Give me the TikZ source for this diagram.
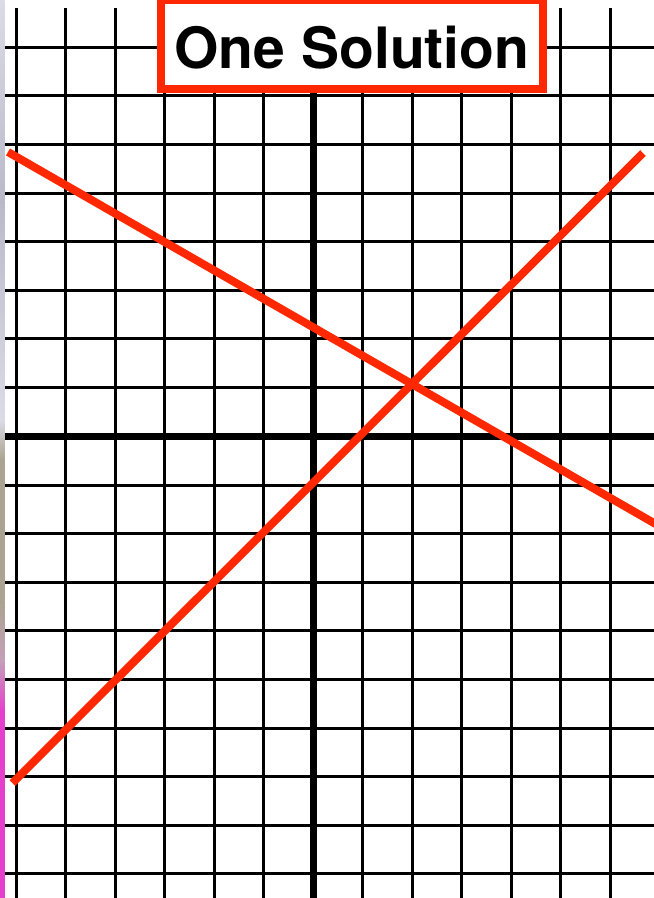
\documentclass[tikz,border=0pt]{standalone}
\usepackage{fontspec}
\setmainfont{TeX Gyre Heros}
\definecolor{redline}{RGB}{255,40,0}
\definecolor{stripA}{RGB}{218,219,230}
\definecolor{stripB}{RGB}{184,186,200}
\definecolor{stripC}{RGB}{170,163,143}
\definecolor{stripD}{RGB}{196,160,184}
\definecolor{stripE}{RGB}{228,64,204}
\begin{document}
\begin{tikzpicture}[x=1pt,y=-1pt,
  gridline/.style={line width=3pt,black},
  axisline/.style={line width=7pt,black},
  solline/.style={line width=8pt,redline},
  titlebox/.style={draw=redline,line width=8pt,fill=white,minimum width=382pt,minimum height=89pt,inner sep=0pt,
    font=\bfseries\fontsize{57}{57}\selectfont}]
\useasboundingbox (0,0) rectangle (654,898);
\fill[white] (0,0) rectangle (654,898);
% left edge strip
\shade[top color=stripA,bottom color=stripB] (0,0) rectangle (4.5,200);
\shade[top color=stripB,bottom color=stripA] (0,200) rectangle (4.5,420);
\shade[top color=stripA,bottom color=stripC] (0,420) rectangle (4.5,460);
\shade[top color=stripC,bottom color=stripC] (0,460) rectangle (4.5,600);
\shade[top color=stripC,bottom color=stripD] (0,600) rectangle (4.5,660);
\shade[top color=stripD,bottom color=stripE] (0,660) rectangle (4.5,710);
\fill[stripE] (0,710) rectangle (4.5,898);
% grid
\foreach \x in {16,65.5,115,164.5,214,263.5,362.5,412,461.5,511,560.5,610}
  \draw[gridline] (\x,8) -- (\x,898);
\foreach \y in {47.2,95.8,144.4,193,241.6,290.2,338.8,387.4,485,533.6,582.2,630.8,679.4,728,776.6,825.2,873.4}
  \draw[gridline] (5,\y) -- (654,\y);
% axes
\draw[axisline] (313,8) -- (313,898);
\draw[axisline] (5,436) -- (654,436);
% solution lines
\coordinate (d1) at (8,152);
\coordinate (d2) at (660,526.5);
\coordinate (u1) at (12.5,783);
\coordinate (u2) at (643,153);
\draw[solline] (d1) -- (d2);
\draw[solline] (u1) -- (u2);
% title
\node[titlebox] (title) at (352,44.5) {\raisebox{-23.5pt}[20.5pt][20.5pt]{One Solution}};
\end{tikzpicture}
\end{document}
